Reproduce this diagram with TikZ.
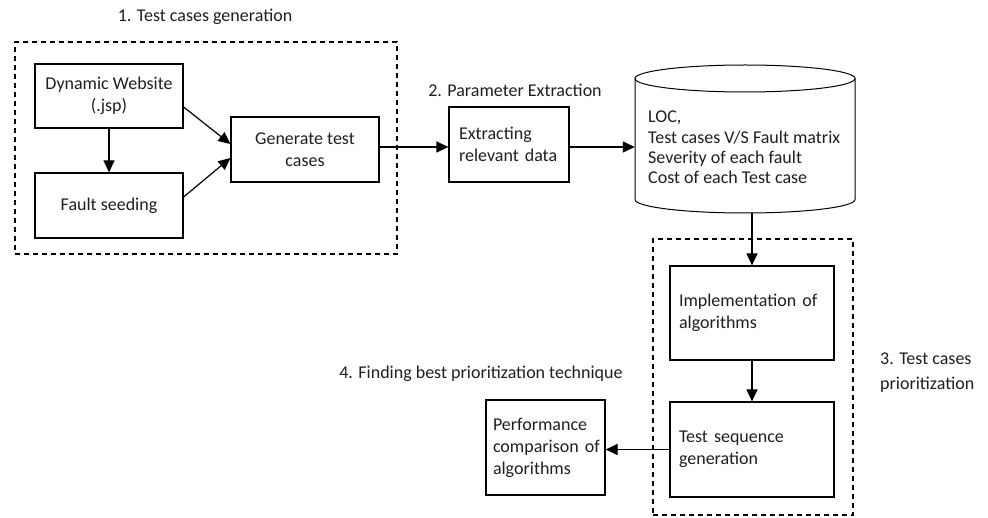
\documentclass[tikz,border=0pt]{standalone}
\usepackage{fontspec}
\setmainfont{Carlito}
\usetikzlibrary{arrows.meta,calc}

\begin{document}
\begin{tikzpicture}[x=1pt,y=-1pt,
  every node/.style={font=\fontsize{18}{22}\selectfont, text=black!88},
  stepbox/.style={draw, line width=1.2pt, inner sep=0pt, align=center},
  leftbox/.style={draw, line width=1.2pt, inner ysep=0pt, align=left},
  groupbox/.style={draw, dashed, dash pattern=on 5pt off 4pt, line width=1.4pt, inner sep=0pt},
  arr/.style={line width=1.2pt, -{Triangle[length=12pt,width=11pt]}},
  caption/.style={inner sep=0pt}
]
\useasboundingbox (0,0) rectangle (988,518);

% group frames
\node[groupbox, minimum width=382, minimum height=212] (grpgen) at (206,148) {};
\node[groupbox, minimum width=200, minimum height=276] (grpprio) at (753,377) {};

% stage captions
\node[caption] (capgen) at (205,17) {1. Test cases generation};
\node[caption] (capext) at (515,90) {2. Parameter Extraction};
\node[caption, anchor=west, align=left, font=\fontsize{18}{25}\selectfont] (capprio) at (880,372.5) {3. Test cases\\prioritization};
\node[caption] (capbest) at (481,374) {4. Finding best prioritization technique};

% stage 1
\node[stepbox, minimum width=148, minimum height=64] (web) at (109,96) {Dynamic Website\\(.jsp)};
\node[stepbox, minimum width=148, minimum height=65] (seed) at (109,205.5) {Fault seeding};
\node[stepbox, minimum width=148, minimum height=65] (gen) at (305,149.5) {Generate test\\cases};

% stage 2
\node[leftbox, text width=100pt, inner xsep=10pt, minimum height=75] (extract) at (509,144.5) {Extracting\\relevant data};

% data store (cylinder)
\node[inner sep=0pt, minimum width=220, minimum height=148] (db) at (745,139) {};
\draw[line width=1pt] (745,78.5) ellipse [x radius=110pt, y radius=13.5pt];
\draw[line width=1pt] (635,78.5) -- (635,199.5)
  arc [start angle=180, end angle=360, x radius=110pt, y radius=13.5pt] -- (855,78.5);
\node[inner sep=0pt, anchor=west, align=left, font=\fontsize{18}{20.3}\selectfont] (dbtext) at (648,147.5)
  {LOC,\\Test cases V/S Fault matrix\\Severity of each fault\\Cost of each Test case};

% stage 3
\node[leftbox, text width=146pt, inner xsep=9pt, minimum height=94] (impl) at (752,313) {Implementation of\\algorithms};
\node[leftbox, text width=146pt, inner xsep=9pt, minimum height=95] (seq) at (752,449.5) {Test sequence\\generation};

% stage 4
\node[leftbox, text width=105pt, inner xsep=7pt, minimum height=95] (perf) at (545.5,447.5) {Performance\\\mbox{comparison of}\\algorithms};

% connectors
\draw[arr] (web.south) -- (seed.north);
\draw[arr] ([yshift=-11pt]web.east) -- ([yshift=5.5pt]gen.west);
\draw[arr] ([yshift=8.5pt]seed.east) -- ([yshift=-8.5pt]gen.west);
\draw[arr] ([yshift=2.5pt]gen.east) -- ([yshift=-2.5pt]extract.west);
\draw[arr] ([yshift=-2.5pt]extract.east) -- ([yshift=-8pt]db.west);
\draw[arr] (impl.north |- db.south) -- (impl.north);
\draw[arr] (impl.south) -- (seq.north);
\draw[arr] (seq.west) -- (seq.west -| perf.east);
\end{tikzpicture}
\end{document}
